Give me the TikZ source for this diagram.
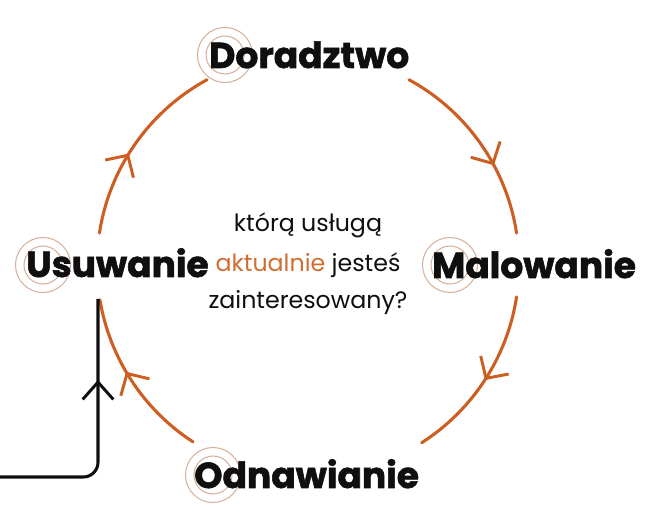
\documentclass[tikz,border=0pt]{standalone}
\usepackage{fontspec}
\setmainfont{Poppins}
\newfontfamily\popb{Poppins}[UprightFont=* Bold,UprightFeatures={FakeBold=1.6}]
\usetikzlibrary{arrows.meta,decorations.markings,calc}
\definecolor{arcor}{RGB}{204,94,34}
\definecolor{txtor}{RGB}{208,110,50}
\definecolor{ringc}{RGB}{214,178,156}
\definecolor{ink}{RGB}{15,15,15}
\tikzset{
  x=0.75pt,y=0.75pt,
  lbl/.style={anchor=base west,inner sep=0pt,font=\popb\fontsize{27}{30}\selectfont,text=ink},
  qtxt/.style={anchor=base,inner sep=0pt,font=\fontsize{17.8}{20}\selectfont,text=ink},
  ring/.style={draw=ringc,line width=0.8pt},
  cyc/.style={draw=arcor,line width=2.3pt,line cap=round},
  arrowat/.style={postaction={decorate},decoration={markings,mark=at position #1 with {\arrow[arcor]{Straight Barb[length=12pt,width=25pt,line width=2.2pt]}}}},
}
\begin{document}
\begin{tikzpicture}
\useasboundingbox (0,0) rectangle (654,517);
\coordinate (c) at (308,252);
% rings
\foreach \n/\x/\y in {rd/225/462, ru/43/252, rm/450/252, ro/213/42}{
  \draw[ring] (\x,\y) circle (27.5);
  \draw[ring] (\x,\y) circle (19);
}
% labels
\node[lbl] (dor) at (209,449) {Doradztwo};
\node[lbl] (usu) at (26,240) {Usuwanie};
\node[lbl] (mal) at (432,239) {Malowanie};
\node[lbl] (odn) at (194,29) {Odnawianie};
% question
\node[qtxt] (q1) at (308,285) {którą usługą};
\node[qtxt] (q2) at (308,245) {\textcolor{txtor}{aktualnie} jesteś};
\node[qtxt] (q3) at (308,208) {zainteresowany?};
% cycle arcs
\draw[cyc,arrowat=0.63] ($(c)+(61.4:211)$) arc[start angle=61.4,end angle=8.7,radius=211];
\draw[cyc,arrowat=0.50] ($(c)+(-8.7:211)$) arc[start angle=-8.7,end angle=-57.4,radius=211];
\draw[cyc,arrowat=0.56] ($(c)+(237:211)$) arc[start angle=237,end angle=189.5,radius=211];
\draw[cyc,arrowat=0.44] ($(c)+(171.3:211)$) arc[start angle=171.3,end angle=118.6,radius=211];
% entry line
\coordinate (ein) at (0,40);
\coordinate (ecorner) at (98,40);
\coordinate (eend) at (98,218);
\draw[ink,line width=2.3pt,rounded corners=11pt,postaction={decorate},
  decoration={markings,mark=at position 0.70 with {\arrow{Straight Barb[length=13pt,width=23pt,line width=2.2pt]}}}]
  (ein) -- (ecorner) -- (eend);
\end{tikzpicture}
\end{document}
